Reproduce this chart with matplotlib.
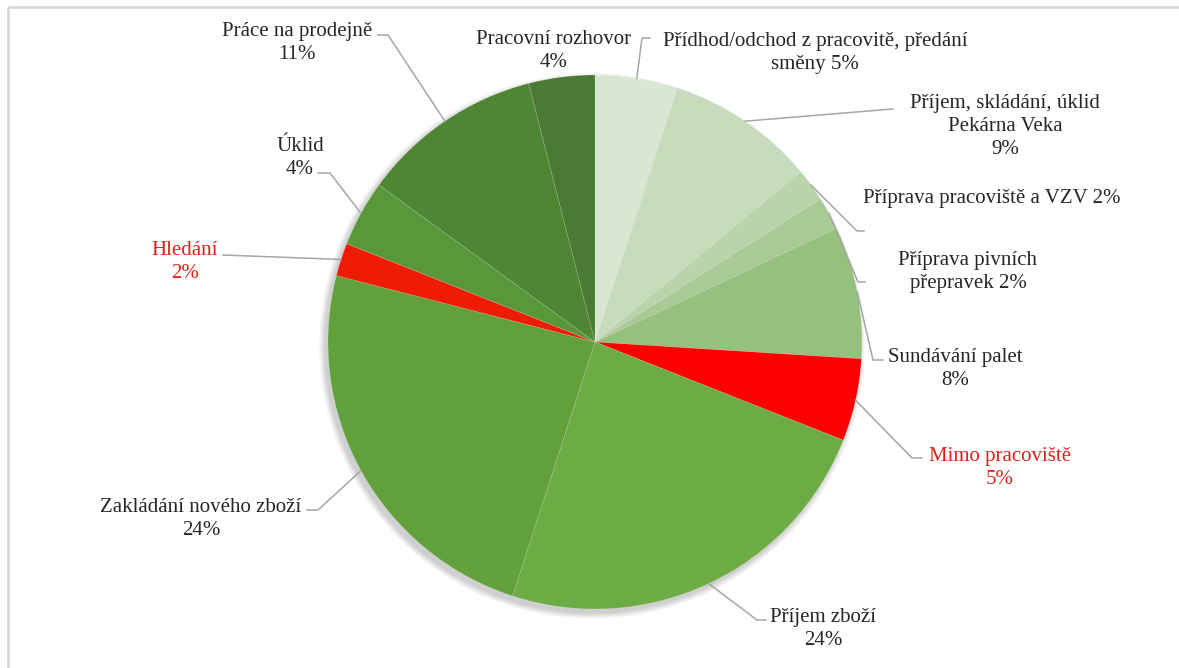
import matplotlib.pyplot as plt
import numpy as np
from matplotlib.patches import Rectangle, Circle

# podíly činností (v %), po směru hodinových ručiček od 12 hodin
labels = ['Přídhod/odchod z pracovitě, předání\nsměny',
          'Příjem, skládání, úklid\nPekárna Veka\n',
          'Příprava pracoviště a VZV',
          'Příprava pivních\npřepravek',
          'Sundávání palet\n',
          'Mimo pracoviště\n',
          'Příjem zboží\n',
          'Zakládání nového zboží\n',
          'Hledání\n',
          'Úklid\n',
          'Práce na prodejně\n',
          'Pracovní rozhovor\n']
values = [5, 9, 2, 2, 8, 5, 24, 24, 2, 4, 11, 4]
colors = ['#d9e6d1', '#c8dcbd', '#b9d3aa', '#a9ca96', '#96c07e', '#ff0000',
          '#6dac44', '#62a03b', '#ee1c05', '#5a963a', '#4e8633', '#4a7a34']
text_colors = ['#262626'] * 5 + ['#e0201a'] + ['#262626'] * 2 + ['#e0201a'] + ['#262626'] * 3

# rozvržení popisků (střed textu, střed prvního řádku) a lomy vodicích čar
label_pos = [(815, 39), (1005, 100), (992, 197), (968, 258), (955, 355), (1000, 454),
             (823, 615), (201, 505), (185, 248), (300, 144), (297, 29), (554, 37)]
elbows = [[(642, 38), (650, 38)], [(893, 109)], [(857, 231), (864, 231)],
          [(858, 282), (865, 282)], [(873, 360), (883, 360)], [(912, 458), (922, 458)],
          [(757, 620), (766, 620)], [(318, 510), (307, 510)], [(223, 255)],
          [(330, 173), (318, 173)], [(388, 35), (378, 35)], None]
line_h = 24

W, H = 1179, 668
cx, cy, r = 595, 342, 267

fig = plt.figure(figsize=(W / 100, H / 100), dpi=100)
ax = fig.add_axes([0, 0, 1, 1])

# rámeček
ax.add_patch(Rectangle((8, 7), W, H, fill=False, edgecolor='#d9d9d9', linewidth=2))

# jemný stín pod koláčem
for k in range(8):
    ax.add_patch(Circle((cx - 3, cy + 4), r + 6 - k * 0.8, color='#000000', alpha=0.025, lw=0))

# y osa je otočená, proto counterclock=True dává směr po směru hodin
wedges, _ = ax.pie(values, colors=colors, startangle=-90, counterclock=True,
                   center=(cx, cy), radius=r, frame=True,
                   wedgeprops=dict(linewidth=0.4, edgecolor=(1, 1, 1, 0.25)))
ax.set_xlim(0, W)
ax.set_ylim(H, 0)
ax.set_aspect('equal')
ax.axis('off')

for w, lab, v, tc, pos, el in zip(wedges, labels, values, text_colors, label_pos, elbows):
    txt = lab.rstrip('\n')
    if lab.endswith('\n'):
        txt = txt + '\n' + f'{v}%'
    else:
        txt = txt + f' {v}%'
    n = txt.count('\n')
    # baseline se u víceřádkového textu vztahuje k poslednímu řádku
    ax.text(pos[0], pos[1] + 6 + n * line_h, txt, ha='center', va='baseline', fontsize=15,
            family='Liberation Serif', color=tc, linespacing=1.29)
    if el is None:
        continue
    ang = np.deg2rad((w.theta1 + w.theta2) / 2)
    x0 = cx + r * np.cos(ang)
    y0 = cy + r * np.sin(ang)
    xs = [x0] + [p[0] for p in el]
    ys = [y0] + [p[1] for p in el]
    ax.plot(xs, ys, color='#a6a6a6', linewidth=1.1)

fig.savefig('out.png', dpi=100, facecolor='white')
